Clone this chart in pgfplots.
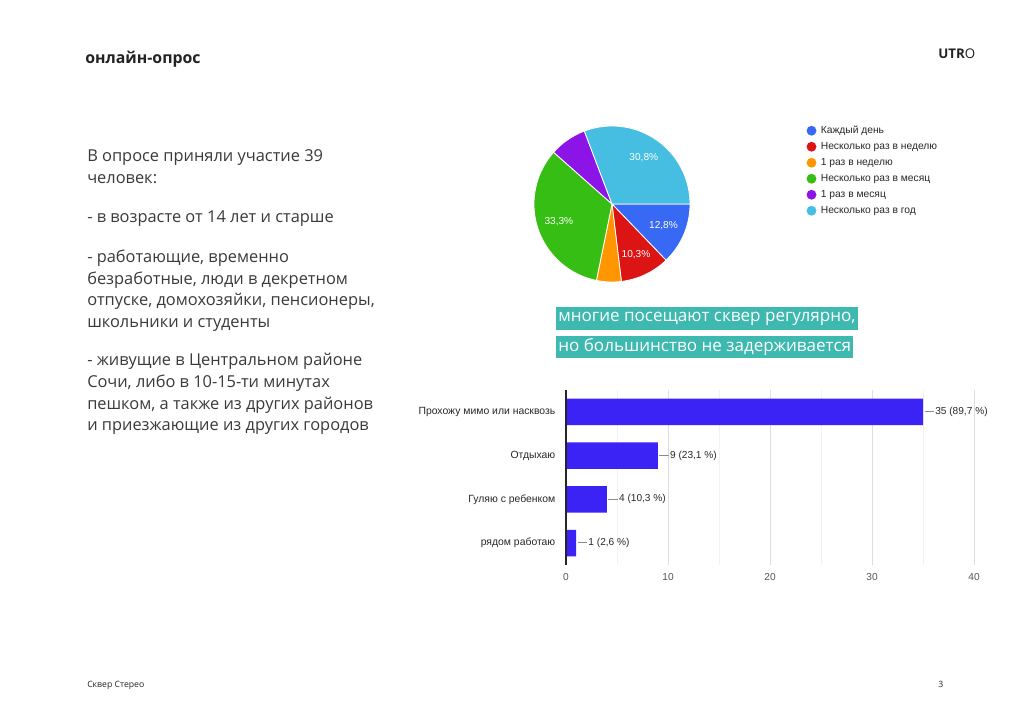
\documentclass[border=0pt]{standalone}
\usepackage{fontspec}
\setmainfont{Open Sans}
\newfontfamily\arial{Liberation Sans}
\usepackage{pgfplots}
\pgfplotsset{compat=1.18}
\usepackage{pgfplotstable}

\definecolor{bodytext}{RGB}{58,58,58}
\definecolor{titletext}{RGB}{34,34,34}
\definecolor{teal}{RGB}{62,185,175}
\definecolor{barblue}{RGB}{60,35,245}
\definecolor{pblue}{RGB}{55,105,245}
\definecolor{pred}{RGB}{220,20,20}
\definecolor{porange}{RGB}{255,150,0}
\definecolor{pgreen}{RGB}{55,190,20}
\definecolor{ppurple}{RGB}{140,20,230}
\definecolor{pcyan}{RGB}{70,190,225}
\definecolor{charttext}{RGB}{40,40,40}
\definecolor{ticktext}{RGB}{85,85,85}

% pie counts: 5, 4, 2, 13, 3, 12 (total 39)
\newcommand{\pieslice}[4]{%
  \fill[#3, draw=white, line width=0.6pt] (axis cs:0,0) -- ++({-#1/39*360}:58.5pt)
     arc[start angle={-#1/39*360}, end angle={-#2/39*360}, radius=58.5pt] -- cycle;
  \path (axis cs:0,0) ++({-(#1+#2)/2/39*360}:42pt) node[text=white, font=\arial\fontsize{7.6}{9}\selectfont] {#4};
}

\pgfplotstableread{
x y label
35 3 {35 (89,7 \%)}
9 2 {9 (23,1 \%)}
4 1 {4 (10,3 \%)}
1 0 {1 (2,6 \%)}
}\bardata

\begin{document}
\begin{tikzpicture}[x=0.75pt,y=0.75pt]
\fill[white] (0,0) rectangle (1024,724);

% title and logo
\node[anchor=base west, inner sep=0pt, text=titletext, font=\fontsize{11.9}{14}\selectfont\bfseries] at (85,660) {онлайн-опрос};
\node[anchor=base west, inner sep=0pt, text=titletext, font=\fontsize{10}{12}\selectfont] at (938,665) {\textbf{UTR}O};

% body text
\begin{scope}[every node/.style={anchor=base west, inner sep=0pt, text=bodytext, font=\fontsize{12.3}{14}\selectfont}]
\node at (87,{724-162}) {В опросе приняли участие 39};
\node at (87,{724-184}) {человек:};
\node at (87,{724-223}) {- в возрасте от 14 лет и старше};
\node at (87,{724-263}) {- работающие, временно};
\node at (87,{724-285}) {безработные, люди в декретном};
\node at (87,{724-306}) {отпуске, домохозяйки, пенсионеры,};
\node at (87,{724-328}) {школьники и студенты};
\node at (87,{724-366}) {- живущие в Центральном районе};
\node at (87,{724-388}) {Сочи, либо в 10-15-ти минутах};
\node at (87,{724-410}) {пешком, а также из других районов};
\node at (87,{724-431}) {и приезжающие из других городов};
\end{scope}

% footer
\node[anchor=base west, inner sep=0pt, text=titletext, font=\fontsize{6.5}{8}\selectfont] at (87,{724-688}) {Сквер Стерео};
\node[anchor=base west, inner sep=0pt, text=titletext, font=\fontsize{6.5}{8}\selectfont] at (938,{724-688}) {3};

% highlighted statements
\node[anchor=west, fill=teal, text=white, inner xsep=1.5pt, inner ysep=0pt, minimum height=17.25pt, font=\fontsize{12.8}{14}\selectfont] at (556,{724-318.5}) {многие посещают сквер регулярно,};
\node[anchor=west, fill=teal, text=white, inner xsep=1.5pt, inner ysep=0pt, minimum height=16.5pt, font=\fontsize{12.8}{14}\selectfont] at (556,{724-347}) {но большинство не задерживается};

% pie chart
\begin{axis}[at={(400.5pt,331.5pt)}, anchor=south west, scale only axis, width=117pt, height=117pt,
  xmin=-1, xmax=1, ymin=-1, ymax=1, hide axis, clip=false,
  legend cell align=left,
  legend style={at={(1.72,1.02)}, anchor=north west, draw=none, fill=none,
    font=\arial\fontsize{7.7}{8.5}\selectfont, text=charttext, row sep=4.6pt,
    nodes={inner sep=0pt, text height=5.8pt, text depth=1.5pt}},
  legend image code/.code={\fill[#1, draw=none] (3.7pt,0pt) circle (3.7pt); \path (10.5pt,0pt);}]
\addlegendimage{fill=pblue}\addlegendentry{Каждый день}
\addlegendimage{fill=pred}\addlegendentry{Несколько раз в неделю}
\addlegendimage{fill=porange}\addlegendentry{1 раз в неделю}
\addlegendimage{fill=pgreen}\addlegendentry{Несколько раз в месяц}
\addlegendimage{fill=ppurple}\addlegendentry{1 раз в месяц}
\addlegendimage{fill=pcyan}\addlegendentry{Несколько раз в год}
\pieslice{0}{5}{pblue}{12,8\%}
\pieslice{5}{9}{pred}{10,3\%}
\pieslice{9}{11}{porange}{}
\pieslice{11}{24}{pgreen}{33,3\%}
\pieslice{24}{27}{ppurple}{}
\pieslice{27}{39}{pcyan}{30,8\%}
\end{axis}

% bar chart
\begin{axis}[at={(424.5pt,119.25pt)}, anchor=south west, scale only axis, width=306pt, height=131.25pt,
  xmin=0, xmax=40, ymin=-0.5, ymax=3.5,
  xbar, bar width=20pt, clip=false,
  axis line style={draw=none},
  major tick length=0pt, minor tick length=0pt,
  xtick={0,10,20,30,40}, minor x tick num=1,
  xmajorgrids, xminorgrids,
  major grid style={draw=black!13, line width=0.6pt},
  minor grid style={draw=black!5, line width=0.6pt},
  ytick={0,1,2,3},
  yticklabels={рядом работаю, Гуляю с ребенком, Отдыхаю, Прохожу мимо или насквозь},
  yticklabel style={font=\arial\fontsize{7.8}{9}\selectfont, text=charttext, xshift=-4.5pt},
  xticklabel style={font=\arial\fontsize{7.6}{9}\selectfont, text=ticktext, yshift=-2.5pt},
  /pgf/number format/assume math mode=true,
  nodes near coords={\textcolor{black!45}{\rule[0.27em]{7pt}{0.5pt}}\hspace{1pt}\pgfplotspointmeta},
  point meta=explicit symbolic,
  every node near coord/.append style={font=\arial\fontsize{7.6}{9}\selectfont, text=charttext, inner sep=1pt, anchor=west}]
\addplot[fill=barblue, draw=none] table[x=x, y=y, meta=label] {\bardata};
\draw[black!85, line width=0.9pt] (axis cs:0,-0.5) -- (axis cs:0,3.5);
\end{axis}
\end{tikzpicture}
\end{document}
